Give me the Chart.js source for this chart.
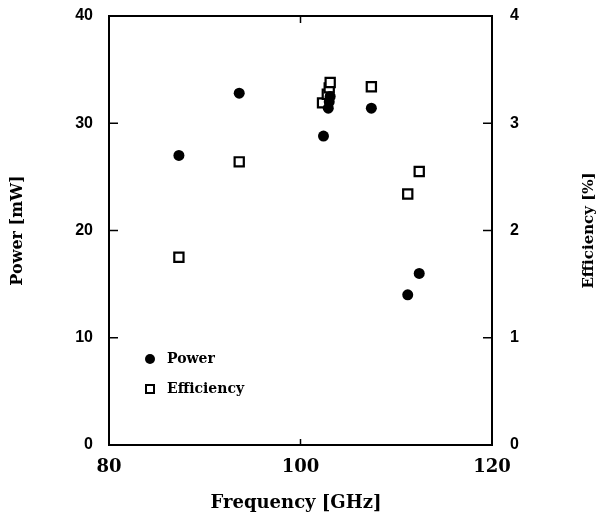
<!DOCTYPE html>
<html>
<head>
<meta charset="utf-8">
<script src="https://cdn.jsdelivr.net/npm/chart.js@4.4.1/dist/chart.umd.min.js"></script>
<style>
  body { margin: 0; background: #fff; }
  #box { width: 601px; height: 518px; }
</style>
</head>
<body>
<div id="box"><canvas id="grafico"></canvas></div>
<script>
// datos
const frecPotencia = [87.3, 93.6, 102.4, 102.9, 103.0, 103.1, 107.4, 111.2, 112.4];
const potencia = [27.0, 32.8, 28.8, 31.4, 32.0, 32.5, 31.4, 14.0, 16.0];
const frecEficiencia = [87.3, 93.6, 102.3, 102.8, 103.0, 103.1, 107.4, 111.2, 112.4];
const eficiencia = [1.75, 2.64, 3.19, 3.27, 3.33, 3.38, 3.34, 2.34, 2.55];
const ticksX = [80, 100, 120];
const ticksPotencia = [0, 10, 20, 30, 40];
const ticksEficiencia = [0, 1, 2, 3, 4];

const serif = "'DejaVu Serif', 'Liberation Serif', serif";
const sans = "'Liberation Sans', Arial, sans-serif";

// marco, marcas hacia adentro, leyenda y titulos
const marco = {
  id: 'marco',
  afterDraw(chart) {
    const { ctx, chartArea: a, scales } = chart;
    ctx.save();
    ctx.strokeStyle = '#000';
    ctx.lineWidth = 2;
    ctx.strokeRect(a.left, a.top, a.right - a.left, a.bottom - a.top);

    ctx.lineWidth = 1.5;
    ticksPotencia.slice(1, -1).forEach(v => {
      const y = scales.y.getPixelForValue(v);
      ctx.beginPath(); ctx.moveTo(a.left, y); ctx.lineTo(a.left + 9, y); ctx.stroke();
    });
    ticksEficiencia.slice(1, -1).forEach(v => {
      const y = scales.y2.getPixelForValue(v);
      ctx.beginPath(); ctx.moveTo(a.right, y); ctx.lineTo(a.right - 9, y); ctx.stroke();
    });
    ticksX.slice(1, -1).forEach(v => {
      const x = scales.x.getPixelForValue(v);
      ctx.beginPath(); ctx.moveTo(x, a.bottom); ctx.lineTo(x, a.bottom - 6); ctx.stroke();
      ctx.beginPath(); ctx.moveTo(x, a.top); ctx.lineTo(x, a.top + 7); ctx.stroke();
    });

    // leyenda dentro del area
    const lx = a.left + 41;
    ctx.font = 'bold 14px ' + serif;
    ctx.textBaseline = 'middle';
    ctx.fillStyle = '#000';
    ctx.beginPath(); ctx.arc(lx, 359, 5, 0, Math.PI * 2); ctx.fill();
    ctx.fillText(chart.data.datasets[0].label, lx + 17, 359);
    ctx.lineWidth = 2;
    ctx.strokeRect(lx - 4, 385, 8, 8);
    ctx.fillText(chart.data.datasets[1].label, lx + 17, 389);

    // titulo del eje x, algo corrido a la izquierda como en el original
    ctx.textAlign = 'center';
    ctx.font = 'bold 18px ' + serif;
    ctx.fillText('Frequency [GHz]', 296, 503);

    // titulo del eje derecho
    ctx.translate(589, (a.top + a.bottom) / 2);
    ctx.rotate(-Math.PI / 2);
    ctx.font = 'bold 15px ' + serif;
    ctx.fillText('Efficiency [%]', 0, 0);
    ctx.restore();
  }
};

function ajusteY(s) {
  s.width = 109;
  s.paddingTop = 0;
  s.paddingBottom = 0;
}

const ctx = document.getElementById('grafico').getContext('2d');
new Chart(ctx, {
  type: 'scatter',
  data: {
    datasets: [{
      label: 'Power',
      data: frecPotencia.map((f, i) => ({ x: f, y: potencia[i] })),
      yAxisID: 'y',
      pointStyle: 'circle',
      pointRadius: 5.5,
      backgroundColor: '#000',
      borderColor: '#000',
      borderWidth: 0
    }, {
      label: 'Efficiency',
      data: frecEficiencia.map((f, i) => ({ x: f, y: eficiencia[i] })),
      yAxisID: 'y2',
      pointStyle: 'rect',
      pointRadius: 6.5,
      backgroundColor: '#fff',
      borderColor: '#000',
      borderWidth: 2.2
    }]
  },
  options: {
    responsive: true,
    maintainAspectRatio: false,
    animation: false,
    layout: { padding: { top: 16, left: 0, right: 0, bottom: 0 } },
    plugins: { legend: { display: false }, tooltip: { enabled: false } },
    scales: {
      x: {
        type: 'linear', min: 80, max: 120,
        afterBuildTicks: s => { s.ticks = ticksX.map(v => ({ value: v })); },
        afterFit: s => { s.height = 73; s.paddingLeft = 0; s.paddingRight = 0; },
        grid: { display: false, drawTicks: false },
        border: { display: false },
        ticks: { padding: 12, color: '#000', font: { family: serif, size: 18, weight: 'bold' } }
      },
      y: {
        type: 'linear', position: 'left', min: 0, max: 40,
        afterBuildTicks: s => { s.ticks = ticksPotencia.map(v => ({ value: v })); },
        afterFit: ajusteY,
        grid: { display: false, drawTicks: false },
        border: { display: false },
        ticks: { padding: 16, color: '#000', font: { family: sans, size: 16, weight: 'bold' } },
        title: { display: true, text: 'Power [mW]', color: '#000', padding: { top: 8, bottom: 0 },
          font: { family: serif, size: 16, weight: 'bold' } }
      },
      y2: {
        type: 'linear', position: 'right', min: 0, max: 4,
        afterBuildTicks: s => { s.ticks = ticksEficiencia.map(v => ({ value: v })); },
        afterFit: ajusteY,
        grid: { display: false, drawTicks: false },
        border: { display: false },
        ticks: { padding: 18, color: '#000', font: { family: sans, size: 16, weight: 'bold' } }
      }
    }
  },
  plugins: [marco]
});
</script>
</body>
</html>
